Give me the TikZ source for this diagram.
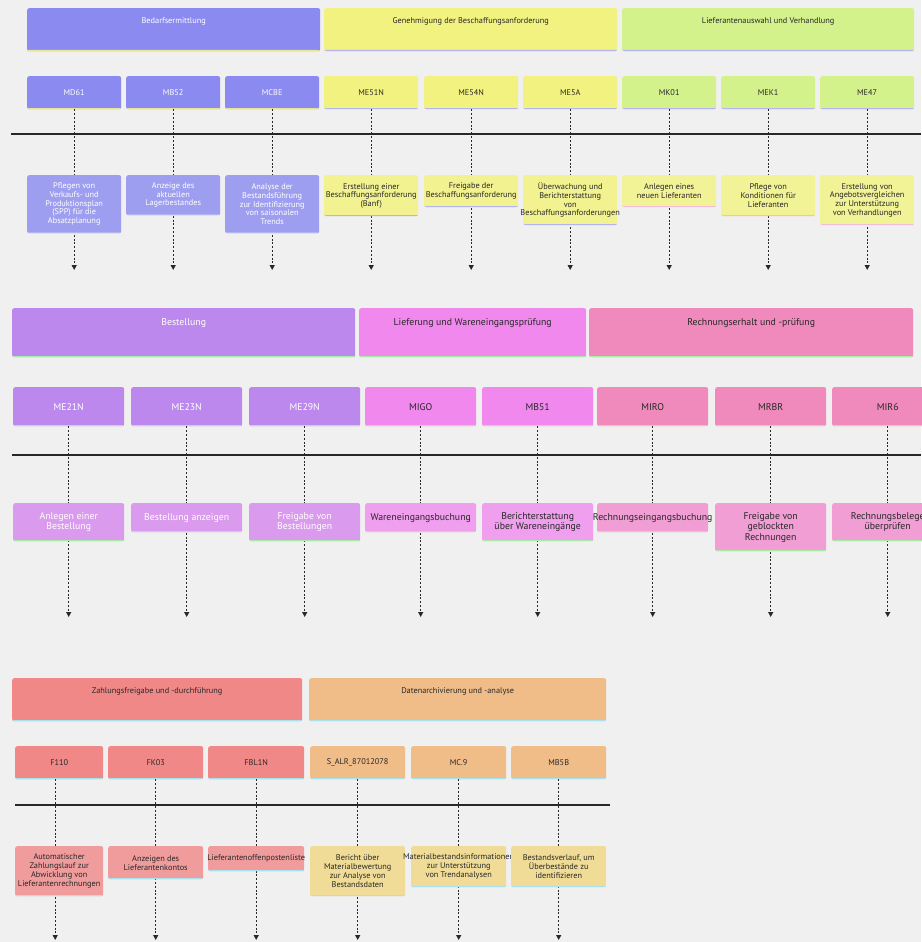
\documentclass[tikz,border=0pt]{standalone}
\usepackage{fontspec}
\setmainfont{PT Sans}
\usetikzlibrary{arrows.meta}
\newcommand{\ovl}[1]{\makebox[0pt][c]{#1}}
\definecolor{bg}{RGB}{240,240,240}
\definecolor{ink}{RGB}{40,40,40}
\definecolor{cA}{RGB}{138,138,240}\definecolor{dA}{RGB}{158,158,240}
\definecolor{cB}{RGB}{242,242,128}\definecolor{dB}{RGB}{242,242,145}
\definecolor{cC}{RGB}{212,242,140}\definecolor{dC}{RGB}{242,242,150}
\definecolor{cD}{RGB}{188,136,238}\definecolor{dD}{RGB}{218,155,238}
\definecolor{cE}{RGB}{240,136,238}\definecolor{dE}{RGB}{240,158,238}
\definecolor{cF}{RGB}{240,138,188}\definecolor{dF}{RGB}{240,158,212}
\definecolor{cG}{RGB}{240,136,136}\definecolor{dG}{RGB}{240,156,156}
\definecolor{cH}{RGB}{240,188,136}\definecolor{dH}{RGB}{240,220,150}
\definecolor{lnY}{RGB}{230,230,150}
\definecolor{lnL}{RGB}{180,180,240}
\definecolor{lnP}{RGB}{240,190,220}
\definecolor{lnG}{RGB}{170,235,170}
\definecolor{lnC}{RGB}{170,225,235}
\begin{document}
\begin{tikzpicture}[x=1pt,y=-1pt,
  bx/.style={rectangle, rounded corners=2pt, inner sep=0pt, anchor=north west, align=center, fill=#1},
  bl/.style={path picture={\fill[#1] ([yshift=1.2pt]path picture bounding box.south west) rectangle (path picture bounding box.south east);}},
  fA/.style={font=\fontsize{8.3}{8.7}\selectfont},
  fB/.style={font=\fontsize{9.8}{10.5}\selectfont},
  fC/.style={font=\fontsize{8.3}{9}\selectfont},
  wt/.style={text=white},
  dk/.style={text=ink},
  conn/.style={draw=ink, line width=1.4pt, dash pattern=on 2pt off 1.8pt, -{Triangle[length=5pt,width=5pt]}},
  axis/.style={draw=ink, line width=2pt}
]
\path[use as bounding box, fill=bg] (0,0) rectangle (921,942);

% ---------------- Row 1 ----------------
\node[bx=cA, bl=lnY, minimum width=293pt, minimum height=43pt] (h1) at (27,8) {};
\node[fA, wt, anchor=center] (h1t) at ([yshift=-13pt]h1.north) {Bedarfsermittlung};
\node[bx=cB, bl=lnL, minimum width=293pt, minimum height=43pt] (h2) at (324,8) {};
\node[fA, dk, anchor=center] (h2t) at ([yshift=-13pt]h2.north) {Genehmigung der Beschaffungsanforderung};
\node[bx=cC, bl=lnL, minimum width=292pt, minimum height=43pt] (h3) at (622,8) {};
\node[fA, dk, anchor=center] (h3t) at ([yshift=-13pt]h3.north) {Lieferantenauswahl und Verhandlung};

\tikzset{cA1/.style={bx=cA, bl=lnY, fA, wt, minimum width=94pt, minimum height=33pt},
         cB1/.style={bx=cB, bl=lnL, fA, dk, minimum width=94pt, minimum height=33pt},
         cC1/.style={bx=cC, bl=lnL, fA, dk, minimum width=94pt, minimum height=33pt}}
\node[cA1] (md61) at (27,76) {MD61};
\node[cA1] (mb52) at (126,76) {MB52};
\node[cA1] (mcbe) at (225,76) {MCBE};
\node[cB1] (me51n) at (324,76) {ME51N};
\node[cB1] (me54n) at (424,76) {ME54N};
\node[cB1] (me5a) at (523,76) {ME5A};
\node[cC1] (mk01) at (622,76) {MK01};
\node[cC1] (mek1) at (721,76) {MEK1};
\node[cC1] (me47) at (820,76) {ME47};

\coordinate (a1l) at (11,134); \coordinate (a1r) at (921,134);
\draw[axis] (a1l) -- (a1r);

\foreach \n in {md61,mb52,mcbe,me51n,me54n,me5a,mk01,mek1,me47}{
  \coordinate (\n e) at (\n.south |- 0,270);
  \draw[conn] (\n.south) -- (\n e);
}

\tikzset{dA1/.style={bx=dA, bl=lnL, fA, wt, minimum width=94pt},
         dB1/.style={bx=dB, bl=lnL, fA, dk, minimum width=94pt},
         dC1/.style={bx=dC, bl=lnP, fA, dk, minimum width=94pt}}
\node[dA1, minimum height=58pt] (t1) at (27,175) {Pflegen von\\Verkaufs- und\\Produktionsplan\\(SPP) für die\\Absatzplanung};
\node[dA1, minimum height=40pt] (t2) at (126,175) {Anzeige des\\aktuellen\\Lagerbestandes};
\node[dA1, minimum height=58pt] (t3) at (225,175) {Analyse der\\Bestandsführung\\zur Identifizierung\\von saisonalen\\Trends};
\node[dB1, minimum height=41pt] (t4) at (324,175) {Erstellung einer\\\ovl{Beschaffungsanforderung}\\(Banf)};
\node[dB1, minimum height=32pt] (t5) at (424,175) {Freigabe der\\\ovl{Beschaffungsanforderung}};
\node[dB1, minimum height=50pt] (t6) at (523,175) {Überwachung und\\Berichterstattung\\von\\\ovl{Beschaffungsanforderungen}};
\node[dC1, minimum height=32pt] (t7) at (622,175) {Anlegen eines\\neuen Lieferanten};
\node[dC1, minimum height=41pt] (t8) at (721,175) {Pflege von\\Konditionen für\\Lieferanten};
\node[dC1, minimum height=50pt] (t9) at (820,175) {Erstellung von\\Angebotsvergleichen\\zur Unterstützung\\von Verhandlungen};

% ---------------- Row 2 ----------------
\node[bx=cD, bl=lnG, minimum width=343pt, minimum height=49pt] (h4) at (12,308) {};
\node[fB, wt, anchor=center] (h4t) at ([yshift=-15pt]h4.north) {Bestellung};
\node[bx=cE, bl=lnG, minimum width=227pt, minimum height=49pt] (h5) at (359,308) {};
\node[fB, dk, anchor=center] (h5t) at ([yshift=-15pt]h5.north) {Lieferung und Wareneingangsprüfung};
\node[bx=cF, bl=lnG, minimum width=324pt, minimum height=49pt] (h6) at (589,308) {};
\node[fB, dk, anchor=center] (h6t) at ([yshift=-15pt]h6.north) {Rechnungserhalt und -prüfung};

\tikzset{cD1/.style={bx=cD, bl=lnG, fB, wt, minimum width=111pt, minimum height=39pt},
         cE1/.style={bx=cE, bl=lnG, fB, dk, minimum width=111pt, minimum height=39pt},
         cF1/.style={bx=cF, bl=lnG, fB, dk, minimum width=111pt, minimum height=39pt}}
\node[cD1] (me21n) at (13,387) {ME21N};
\node[cD1] (me23n) at (131,387) {ME23N};
\node[cD1] (me29n) at (249,387) {ME29N};
\node[cE1] (migo) at (365,387) {MIGO};
\node[cE1] (mb51) at (482,387) {MB51};
\node[cF1] (miro) at (597,387) {MIRO};
\node[cF1] (mrbr) at (715,387) {MRBR};
\node[cF1] (mir6) at (832,387) {MIR6};

\coordinate (a2l) at (12,455); \coordinate (a2r) at (921,455);
\draw[axis] (a2l) -- (a2r);

\foreach \n in {me21n,me23n,me29n,migo,mb51,miro,mrbr,mir6}{
  \coordinate (\n e) at (\n.south |- 0,617);
  \draw[conn] (\n.south) -- (\n e);
}

\tikzset{dD1/.style={bx=dD, bl=lnG, fB, wt, minimum width=111pt},
         dE1/.style={bx=dE, bl=lnG, fB, dk, minimum width=111pt},
         dF1/.style={bx=dF, bl=lnG, fB, dk, minimum width=111pt}}
\node[dD1, minimum height=38pt] (u1) at (13,503) {Anlegen einer\\Bestellung};
\node[dD1, minimum height=29pt] (u2) at (131,503) {Bestellung anzeigen};
\node[dD1, minimum height=38pt] (u3) at (249,503) {Freigabe von\\Bestellungen};
\node[dE1, minimum height=29pt] (u4) at (365,503) {Wareneingangsbuchung};
\node[dE1, minimum height=38pt] (u5) at (482,503) {Berichterstattung\\über Wareneingänge};
\node[dF1, minimum height=29pt] (u6) at (597,503) {\ovl{Rechnungseingangsbuchung}};
\node[dF1, minimum height=48pt] (u7) at (715,503) {Freigabe von\\geblockten\\Rechnungen};
\node[dF1, minimum height=38pt] (u8) at (832,503) {Rechnungsbelege\\überprüfen};

% ---------------- Row 3 ----------------
\node[bx=cG, bl=lnC, minimum width=290pt, minimum height=43pt] (h7) at (12,678) {};
\node[fC, dk, anchor=center] (h7t) at ([yshift=-13pt]h7.north) {Zahlungsfreigabe und -durchführung};
\node[bx=cH, bl=lnC, minimum width=297pt, minimum height=43pt] (h8) at (309,678) {};
\node[fC, dk, anchor=center] (h8t) at ([yshift=-13pt]h8.north) {Datenarchivierung und -analyse};

\tikzset{cG1/.style={bx=cG, bl=lnC, fC, dk, minimum height=33pt},
         cH1/.style={bx=cH, bl=lnC, fC, dk, minimum height=33pt}}
\node[cG1, minimum width=88pt] (f110) at (15,746) {F110};
\node[cG1, minimum width=95pt] (fk03) at (108,746) {FK03};
\node[cG1, minimum width=96pt] (fbl1n) at (208,746) {FBL1N};
\node[cH1, minimum width=95pt] (salr) at (310,746) {S\_ALR\_87012078};
\node[cH1, minimum width=95pt] (mc9) at (411,746) {MC.9};
\node[cH1, minimum width=95pt] (mb5b) at (511,746) {MB5B};

\coordinate (a3l) at (15,805); \coordinate (a3r) at (610,805);
\draw[axis] (a3l) -- (a3r);

\coordinate (f110s) at ([xshift=-4pt]f110.south);
\coordinate (f110e) at (f110s |- 0,940);
\draw[conn] (f110s) -- (f110e);
\foreach \n in {fk03,fbl1n,salr,mc9,mb5b}{
  \coordinate (\n e) at (\n.south |- 0,940);
  \draw[conn] (\n.south) -- (\n e);
}

\tikzset{dG1/.style={bx=dG, bl=lnC, fC, dk},
         dH1/.style={bx=dH, bl=lnC, fC, dk}}
\node[dG1, minimum width=88pt, minimum height=50pt] (v1) at (15,846) {Automatischer\\Zahlungslauf zur\\Abwicklung von\\\ovl{Lieferantenrechnungen}};
\node[dG1, minimum width=95pt, minimum height=33pt] (v2) at (108,846) {Anzeigen des\\Lieferantenkontos};
\node[dG1, minimum width=96pt, minimum height=25pt] (v3) at (208,846) {\ovl{Lieferantenoffenpostenliste}};
\node[dH1, minimum width=95pt, minimum height=50pt] (v4) at (310,846) {Bericht über\\Materialbewertung\\zur Analyse von\\Bestandsdaten};
\node[dH1, minimum width=95pt, minimum height=41pt] (v5) at (411,846) {\ovl{Materialbestandsinformationen}\\zur Unterstützung\\von Trendanalysen};
\node[dH1, minimum width=95pt, minimum height=41pt] (v6) at (511,846) {Bestandsverlauf, um\\Überbestände zu\\identifizieren};
\end{tikzpicture}
\end{document}
